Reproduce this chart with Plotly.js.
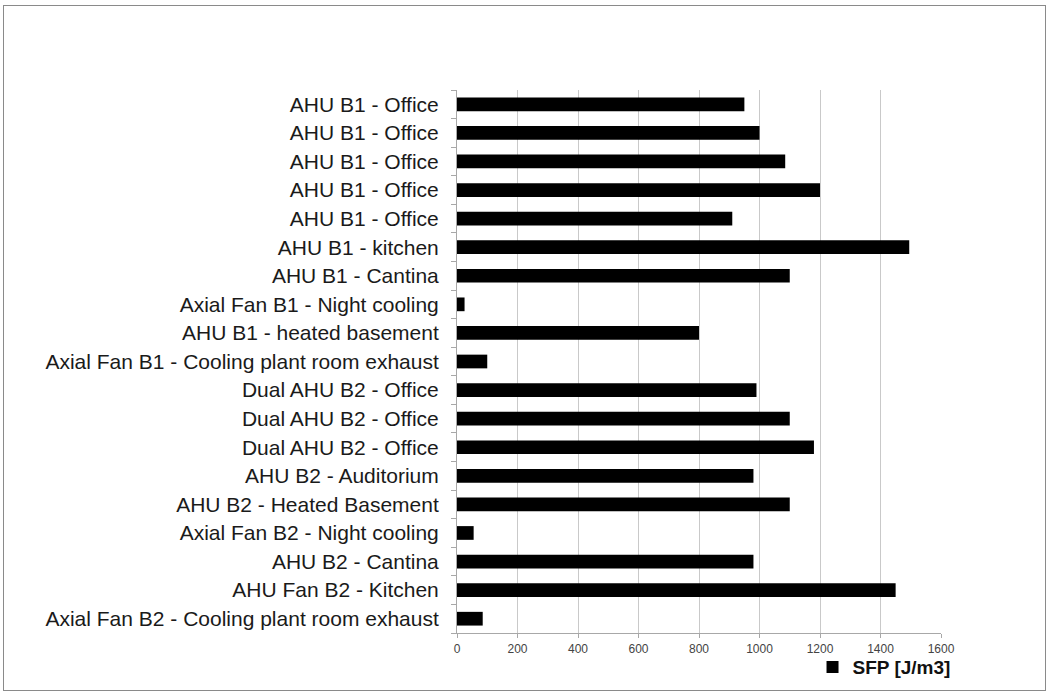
<!DOCTYPE html>
<html>
<head>
<meta charset="utf-8">
<script src="https://cdn.plot.ly/plotly-3.0.1.min.js"></script>
<style>
  html, body { margin: 0; padding: 0; background: #fff; }
  #chart { width: 1048px; height: 693px; }
  #frame { position: absolute; left: 3px; top: 5px; width: 1041px; height: 684px;
           border: 1px solid #8a8a8a; pointer-events: none; }
</style>
</head>
<body>
<div id="chart"></div>
<div id="frame"></div>
<script>
const categories = [
  "AHU B1 - Office",
  "AHU B1 - Office",
  "AHU B1 - Office",
  "AHU B1 - Office",
  "AHU B1 - Office",
  "AHU B1 - kitchen",
  "AHU B1 - Cantina",
  "Axial Fan B1 - Night cooling",
  "AHU B1 - heated basement",
  "Axial Fan B1 - Cooling plant room exhaust",
  "Dual AHU B2 - Office",
  "Dual AHU B2 - Office",
  "Dual AHU B2 - Office",
  "AHU B2 - Auditorium",
  "AHU B2 - Heated Basement",
  "Axial Fan B2 - Night cooling",
  "AHU B2 - Cantina",
  "AHU Fan B2 - Kitchen",
  "Axial Fan B2 - Cooling plant room exhaust"
];
const sfpValues = [950, 1000, 1085, 1200, 910, 1495, 1100, 25, 800, 100,
                   990, 1100, 1180, 980, 1100, 55, 980, 1450, 85];
const xTicks = [0, 200, 400, 600, 800, 1000, 1200, 1400, 1600];
const seriesName = "SFP [J/m3]";

const positions = categories.map((c, i) => i);

const trace = {
  type: "bar",
  orientation: "h",
  x: sfpValues,
  y: positions,
  name: seriesName,
  marker: { color: "#000000", line: { width: 0 } },
  width: 0.48,
  showlegend: true,
  hoverinfo: "x"
};

const layout = {
  width: 1048,
  height: 693,
  paper_bgcolor: "#ffffff",
  plot_bgcolor: "#ffffff",
  margin: { l: 457, r: 107, t: 90, b: 60, pad: 0, autoexpand: false },
  font: { family: "Liberation Sans, Arial, sans-serif", color: "#111" },
  showlegend: true,
  legend: {
    x: 1.03, xanchor: "right",
    y: -0.063, yanchor: "middle",
    orientation: "h",
    font: { size: 19, color: "#111", family: "Liberation Sans, Arial, sans-serif", weight: "bold" },
    bgcolor: "rgba(0,0,0,0)",
    itemwidth: 30,
    tracegroupgap: 0
  },
  xaxis: {
    range: [0, 1600],
    tickvals: xTicks,
    ticktext: xTicks.map(String),
    tickfont: { size: 12, color: "#444" },
    showgrid: true,
    gridcolor: "#c9c9c9",
    gridwidth: 1,
    zeroline: false,
    showline: true,
    linecolor: "#a8a8a8",
    linewidth: 1,
    ticks: "outside",
    ticklen: 4,
    tickcolor: "#a8a8a8",
    ticklabelstandoff: 1,
    fixedrange: true
  },
  yaxis: {
    range: [categories.length - 0.5, -0.5],
    tickmode: "array",
    tickvals: positions,
    ticktext: categories,
    tickfont: { size: 21, color: "#1a1a1a" },
    ticks: "",
    ticklen: 0,
    showgrid: false,
    zeroline: false,
    showline: true,
    linecolor: "#a8a8a8",
    linewidth: 1,
    ticklabelstandoff: 13,
    minor: {
      tickmode: "linear",
      tick0: -0.5,
      dtick: 1,
      ticks: "outside",
      ticklen: 5,
      tickcolor: "#a8a8a8",
      showgrid: false
    },
    fixedrange: true
  }
};

Plotly.newPlot("chart", [trace], layout, { displayModeBar: false, staticPlot: true });
</script>
</body>
</html>
